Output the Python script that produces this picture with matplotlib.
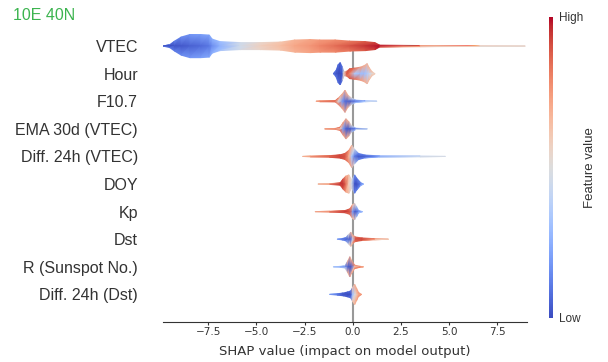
import numpy as np
import matplotlib
matplotlib.use("Agg")
import matplotlib.pyplot as plt
import matplotlib.tri as mtri
from matplotlib.colorbar import ColorbarBase
from matplotlib.colors import Normalize

# ---------------- data ----------------
features = ["VTEC", "Hour", "F10.7", "EMA 30d (VTEC)", "Diff. 24h (VTEC)",
            "DOY", "Kp", "Dst", "R (Sunspot No.)", "Diff. 24h (Dst)"]  # top -> bottom
title_text = "10E 40N"
xticks = [-7.5, -5.0, -2.5, 0.0, 2.5, 5.0, 7.5]

# each violin: SHAP positions, half width (in row units), edge colour value, core colour value
vtec_x = [-9.85, -9.5, -9.25, -8.9, -8.45, -7.9, -7.45, -7.3, -6.9, -5.85, -4.8, -3.75, -3.0,
          -2.2, -1.7, -0.9, -0.15, 0.65, 1.15, 1.4, 3.5, 6.6, 8.95]
vtec_w = [0, 0.055, 0.18, 0.33, 0.42, 0.42, 0.4, 0.255, 0.164, 0.127, 0.127, 0.145, 0.22,
          0.236, 0.22, 0.22, 0.18, 0.164, 0.127, 0.035, 0.02, 0.012, 0]
vtec_edge = [0.1, 0.1, 0.12, 0.15, 0.18, 0.2, 0.22, 0.25, 0.3, 0.45, 0.55, 0.62, 0.68,
             0.72, 0.75, 0.78, 0.82, 0.88, 0.92, 0.95, 0.74, 0.57, 0.53]
vtec_core = [0.0, 0.0, 0.02, 0.03, 0.05, 0.07, 0.1, 0.15, 0.25, 0.45, 0.58, 0.65, 0.72,
             0.76, 0.8, 0.85, 0.9, 0.95, 0.98, 1.0, 0.78, 0.58, 0.53]

hour_x = [-1.0, -0.87, -0.75, -0.65, -0.55, -0.45, -0.3, -0.15, 0.1, 0.4, 0.6, 0.75, 0.85, 1.0, 1.15]
hour_w = [0, 0.11, 0.33, 0.4, 0.255, 0.073, 0.09, 0.18, 0.2, 0.236, 0.29, 0.364, 0.22, 0.073, 0]
hour_edge = [0.1, 0.1, 0.08, 0.05, 0.1, 0.5, 0.85, 0.9, 0.85, 0.75, 0.7, 0.68, 0.68, 0.65, 0.6]
hour_core = [0.05, 0.03, 0.0, 0.0, 0.02, 0.6, 0.9, 0.8, 0.35, 0.3, 0.3, 0.35, 0.4, 0.5, 0.6]

f107_x = [-1.9, -1.7, -0.9, -0.75, -0.55, -0.4, -0.25, -0.05, 0.15, 0.65, 1.25]
f107_w = [0, 0.015, 0.025, 0.11, 0.255, 0.4, 0.22, 0.11, 0.045, 0.015, 0]
f107_edge = [0.65, 0.75, 0.85, 0.8, 0.72, 0.7, 0.68, 0.5, 0.3, 0.33, 0.42]
f107_core = [0.65, 0.77, 0.85, 0.5, 0.2, 0.08, 0.05, 0.05, 0.08, 0.25, 0.42]

ema_x = [-1.45, -0.9, -0.65, -0.5, -0.35, -0.2, -0.05, 0.15, 0.75]
ema_w = [0, 0.015, 0.06, 0.22, 0.364, 0.255, 0.11, 0.025, 0]
ema_edge = [0.65, 0.8, 0.85, 0.75, 0.7, 0.68, 0.5, 0.25, 0.42]
ema_core = [0.65, 0.8, 0.6, 0.2, 0.05, 0.02, 0.05, 0.1, 0.42]

dvtec_x = [-2.6, -2.2, -1.2, -0.65, -0.4, -0.2, -0.05, 0.1, 0.3, 0.65, 1.4, 3.5, 4.8]
dvtec_w = [0, 0.015, 0.03, 0.06, 0.11, 0.22, 0.4, 0.255, 0.11, 0.05, 0.022, 0.012, 0]
dvtec_edge = [0.6, 0.72, 0.86, 0.92, 0.88, 0.78, 0.68, 0.45, 0.15, 0.12, 0.25, 0.42, 0.47]
dvtec_core = [0.6, 0.72, 0.86, 0.92, 0.9, 0.7, 0.35, 0.1, 0.02, 0.05, 0.18, 0.4, 0.47]

doy_x = [-1.8, -1.2, -0.65, -0.5, -0.35, -0.2, -0.05, 0.1, 0.2, 0.4, 0.55]
doy_w = [0, 0.012, 0.045, 0.18, 0.29, 0.33, 0.145, 0.33, 0.22, 0.06, 0]
doy_edge = [0.58, 0.72, 0.92, 0.9, 0.72, 0.65, 0.5, 0.15, 0.1, 0.15, 0.25]
doy_core = [0.58, 0.72, 0.95, 0.95, 0.85, 0.6, 0.45, 0.02, 0.0, 0.1, 0.25]

kp_x = [-1.95, -1.2, -0.4, -0.15, 0.0, 0.1, 0.2, 0.3, 0.5]
kp_w = [0, 0.015, 0.04, 0.1, 0.255, 0.29, 0.18, 0.045, 0]
kp_edge = [0.6, 0.78, 0.9, 0.85, 0.65, 0.6, 0.4, 0.2, 0.3]
kp_core = [0.6, 0.78, 0.95, 0.9, 0.2, 0.05, 0.05, 0.15, 0.3]

dst_x = [-0.8, -0.55, -0.35, -0.2, -0.1, 0.0, 0.15, 0.5, 1.15, 1.85]
dst_w = [0, 0.025, 0.06, 0.18, 0.255, 0.145, 0.08, 0.045, 0.02, 0]
dst_edge = [0.3, 0.15, 0.15, 0.5, 0.65, 0.7, 0.85, 0.9, 0.75, 0.6]
dst_core = [0.3, 0.1, 0.05, 0.05, 0.05, 0.4, 0.9, 0.92, 0.77, 0.6]

r_x = [-1.0, -0.65, -0.4, -0.25, -0.15, -0.05, 0.1, 0.4, 0.55]
r_w = [0, 0.015, 0.045, 0.22, 0.364, 0.22, 0.06, 0.015, 0]
r_edge = [0.4, 0.3, 0.4, 0.68, 0.7, 0.7, 0.8, 0.8, 0.7]
r_core = [0.4, 0.25, 0.15, 0.05, 0.02, 0.05, 0.6, 0.8, 0.7]

ddst_x = [-1.2, -0.8, -0.5, -0.25, -0.1, 0.0, 0.1, 0.2, 0.3, 0.45]
ddst_w = [0, 0.025, 0.05, 0.09, 0.127, 0.255, 0.364, 0.22, 0.073, 0]
ddst_edge = [0.3, 0.12, 0.05, 0.05, 0.1, 0.6, 0.7, 0.72, 0.75, 0.75]
ddst_core = [0.3, 0.12, 0.02, 0.0, 0.0, 0.3, 0.45, 0.6, 0.7, 0.75]

violins = [
    (vtec_x, vtec_w, vtec_edge, vtec_core),
    (hour_x, hour_w, hour_edge, hour_core),
    (f107_x, f107_w, f107_edge, f107_core),
    (ema_x, ema_w, ema_edge, ema_core),
    (dvtec_x, dvtec_w, dvtec_edge, dvtec_core),
    (doy_x, doy_w, doy_edge, doy_core),
    (kp_x, kp_w, kp_edge, kp_core),
    (dst_x, dst_w, dst_edge, dst_core),
    (r_x, r_w, r_edge, r_core),
    (ddst_x, ddst_w, ddst_edge, ddst_core),
]

# ---------------- figure ----------------
W, H = 608, 362
fig = plt.figure(figsize=(W / 100, H / 100), dpi=100)
ax = fig.add_axes([163 / W, 1 - 322 / H, (527 - 163) / W, (322 - 18.5) / H])
cmap = plt.cm.coolwarm
n = len(features)

ax.vlines(0, -1, n - 1, color="#999999", lw=1.5, zorder=0)

for i, (xs, ws, ce, cc) in enumerate(violins):
    y0 = n - 1 - i
    xs = np.asarray(xs, float)
    ws = np.maximum(np.asarray(ws, float), 1e-4)
    m = len(xs)
    px = np.concatenate([xs, xs, xs])
    py = np.concatenate([y0 + ws, np.full(m, y0), y0 - ws])
    pc = np.concatenate([ce, cc, ce])
    tris = []
    for k in range(m - 1):
        t0, t1 = k, k + 1
        c0, c1 = m + k, m + k + 1
        b0, b1 = 2 * m + k, 2 * m + k + 1
        tris += [[t0, t1, c0], [c0, t1, c1], [c0, c1, b0], [b0, c1, b1]]
    tri = mtri.Triangulation(px, py, np.array(tris))
    ax.tripcolor(tri, pc, cmap=cmap, vmin=0, vmax=1, shading="gouraud", zorder=2)

ax.set_xlim(-9.85, 9.05)
ax.set_ylim(-1, n)
for s in ["top", "right", "left"]:
    ax.spines[s].set_visible(False)
ax.spines["bottom"].set_color("#333333")
ax.spines["bottom"].set_linewidth(0.8)

ax.set_xticks(xticks)
ax.set_xticklabels([f"{t:.1f}".replace("-", "\u2212") for t in xticks])
ax.tick_params(axis="x", length=2, pad=1.8, color="#333333", labelcolor="#333333", labelsize=7.5)
ax.set_yticks(range(n))
ax.set_yticklabels(features[::-1], fontsize=11.5, family="Liberation Sans", color="#333333")
ax.tick_params(axis="y", length=0, pad=18)
ax.set_xlabel("SHAP value (impact on model output)", fontsize=9.5, color="#333333", va="center")
ax.xaxis.set_label_coords(0.5, (322 - 352) / (322 - 18.5))

fig.text(13 / W, 1 - 15 / H, title_text, color="#3cb44f", fontsize=11.5,
         family="Liberation Sans", va="center", ha="left")

# colour bar
cax = fig.add_axes([549 / W, 1 - 318 / H, 4 / W, (318 - 17) / H])
cb = ColorbarBase(cax, cmap=cmap, norm=Normalize(0, 1), ticks=[0, 1])
cb.outline.set_visible(False)
cb.set_ticklabels(["Low", "High"])
cax.tick_params(length=0, pad=4, labelsize=8.5, labelcolor="#333333")
for t in cax.get_yticklabels():
    t.set_family("Liberation Sans")
cb.set_label("Feature value", fontsize=9.5, family="Liberation Sans", color="#333333",
             labelpad=1)

fig.savefig("out.png", dpi=100)
